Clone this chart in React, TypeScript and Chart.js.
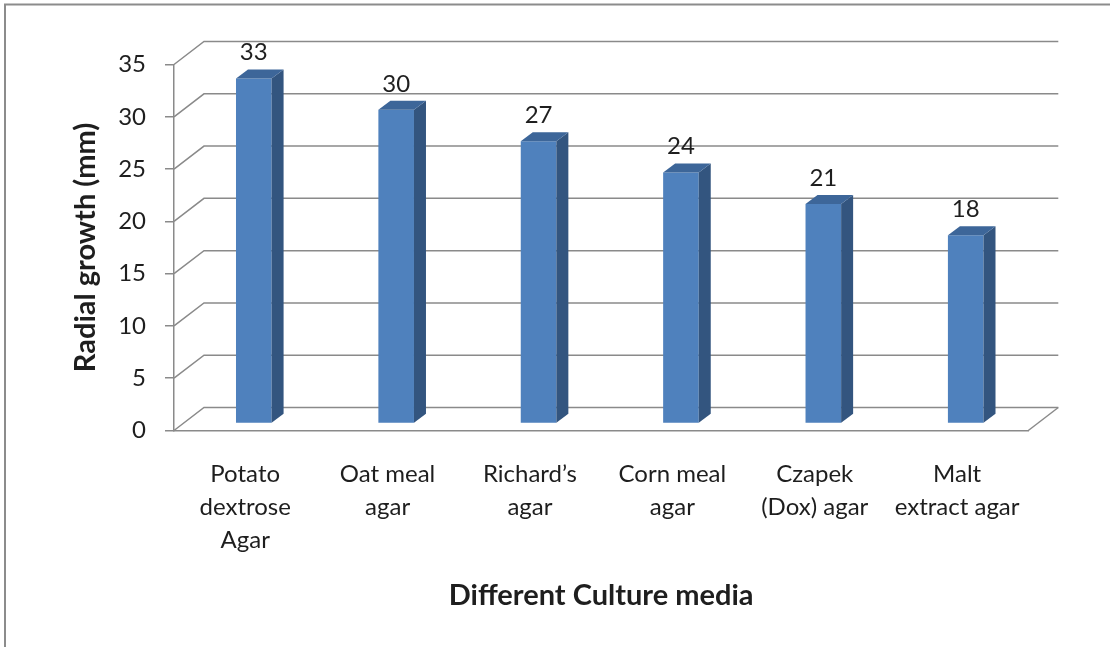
import { useEffect, useRef } from "react";
import { Chart, registerables } from "chart.js";

Chart.register(...registerables);

// Culture media (multi-line category labels) and measured radial growth
const mediaLabels: string[][] = [
  ["Potato", "dextrose", "Agar"],
  ["Oat meal", "agar"],
  ["Richard’s", "agar"],
  ["Corn meal", "agar"],
  ["Czapek", "(Dox) agar"],
  ["Malt", "extract agar"],
];
const radialGrowth: number[] = [33, 30, 27, 24, 21, 18];
const yTickValues: number[] = [0, 5, 10, 15, 20, 25, 30, 35];
const yAxisTitle = "Radial growth (mm)";
const xAxisTitle = "Different Culture media";

const FONT = "Lato, 'Open Sans', sans-serif";
const TEXT = "#1e1e1e";
const GRID = "#8a8a8a";
const FRONT = "#4f81bd";
const SIDE = "#33557f";
const TOP = "#3d6699";

// oblique projection offsets
const WALL = { dx: 30, dy: -23 }; // front plane -> back wall
const SHIFT = { dx: 8.6, dy: -7 }; // front plane -> bar front face
const BAR = { dx: 12, dy: -9 }; // bar front face -> bar back face

const fillPoly = (ctx: CanvasRenderingContext2D, pts: number[][], color: string) => {
  ctx.beginPath();
  ctx.moveTo(pts[0][0], pts[0][1]);
  for (let i = 1; i < pts.length; i++) ctx.lineTo(pts[i][0], pts[i][1]);
  ctx.closePath();
  ctx.fillStyle = color;
  ctx.fill();
};

const columns3d = {
  id: "columns3d",
  beforeDraw(chart: any) {
    const { ctx, chartArea, scales } = chart;
    const y = scales.y;
    const L = chartArea.left;
    const R = chartArea.right;
    ctx.save();
    // outer chart frame
    ctx.strokeStyle = "#8c8c8c";
    ctx.lineWidth = 2;
    ctx.strokeRect(5, 4.5, 1300, 900);
    // side wall diagonals and back wall gridlines
    ctx.strokeStyle = GRID;
    ctx.lineWidth = 1.5;
    for (const v of yTickValues) {
      const py = y.getPixelForValue(v);
      ctx.beginPath();
      ctx.moveTo(L, py);
      ctx.lineTo(L + WALL.dx, py + WALL.dy);
      ctx.lineTo(R + WALL.dx, py + WALL.dy);
      ctx.stroke();
    }
    // right edge of the floor
    const base = y.getPixelForValue(0);
    ctx.beginPath();
    ctx.moveTo(R, base);
    ctx.lineTo(R + WALL.dx, base + WALL.dy);
    ctx.stroke();
    ctx.restore();
  },
  beforeDatasetsDraw(chart: any) {
    chart.ctx.save();
    chart.ctx.translate(SHIFT.dx, SHIFT.dy);
  },
  afterDatasetsDraw(chart: any) {
    const { ctx } = chart;
    const meta = chart.getDatasetMeta(0);
    meta.data.forEach((bar: any, i: number) => {
      const { x, y, base, width } = bar.getProps(["x", "y", "base", "width"], true);
      const l = x - width / 2;
      const r = x + width / 2;
      fillPoly(ctx, [[r, y], [r + BAR.dx, y + BAR.dy], [r + BAR.dx, base + BAR.dy], [r, base]], SIDE);
      fillPoly(ctx, [[l, y], [l + BAR.dx, y + BAR.dy], [r + BAR.dx, y + BAR.dy], [r, y]], TOP);
      ctx.fillStyle = TEXT;
      ctx.font = `24px ${FONT}`;
      ctx.textAlign = "center";
      ctx.textBaseline = "middle";
      ctx.fillText(String(radialGrowth[i]), x, y + BAR.dy - 17);
    });
    ctx.restore();
  },
};

export default function App() {
  const canvasRef = useRef<HTMLCanvasElement | null>(null);

  useEffect(() => {
    document.body.style.margin = "0";
    const canvas = canvasRef.current;
    if (!canvas) return;
    const chart = new Chart(canvas, {
      type: "bar",
      data: {
        labels: mediaLabels,
        datasets: [
          {
            label: yAxisTitle,
            data: radialGrowth,
            backgroundColor: FRONT,
            borderWidth: 0,
            categoryPercentage: 1,
            barPercentage: 0.25,
            clip: false as any,
          },
        ],
      },
      options: {
        animation: false,
        responsive: false,
        events: [],
        layout: { padding: { top: 64.5, right: 81.7, bottom: 0, left: 0 } },
        plugins: {
          legend: { display: false },
          tooltip: { enabled: false },
        },
        scales: {
          x: {
            grid: { display: true, drawOnChartArea: false, drawTicks: false },
            border: { display: true, color: GRID, width: 1.5 },
            ticks: {
              color: TEXT,
              padding: 27,
              maxRotation: 0,
              autoSkip: false,
              font: { family: FONT, size: 24, lineHeight: 1.375 },
            },
            title: {
              display: true,
              text: xAxisTitle,
              color: TEXT,
              font: { family: FONT, size: 29, weight: "bold", lineHeight: 1.2 },
              padding: { top: 0, bottom: 34 },
            },
            afterFit: (s: any) => {
              s.height = 216.5;
            },
          },
          y: {
            min: 0,
            max: 35,
            ticks: {
              stepSize: 5,
              color: TEXT,
              padding: 19,
              font: { family: FONT, size: 24 },
            },
            grid: { drawOnChartArea: false, drawTicks: true, tickLength: 9, color: GRID, lineWidth: 1.5 },
            border: { display: true, color: GRID, width: 1.5 },
            title: {
              display: true,
              text: yAxisTitle,
              color: TEXT,
              font: { family: FONT, size: 29, weight: "bold", lineHeight: 1.2 },
              padding: { top: 68, bottom: 0 },
            },
            afterFit: (s: any) => {
              s.width = 174;
            },
          },
        },
      },
      plugins: [columns3d],
    });
    return () => chart.destroy();
  }, []);

  return <canvas ref={canvasRef} width={1110} height={647} style={{ display: "block" }} />;
}
